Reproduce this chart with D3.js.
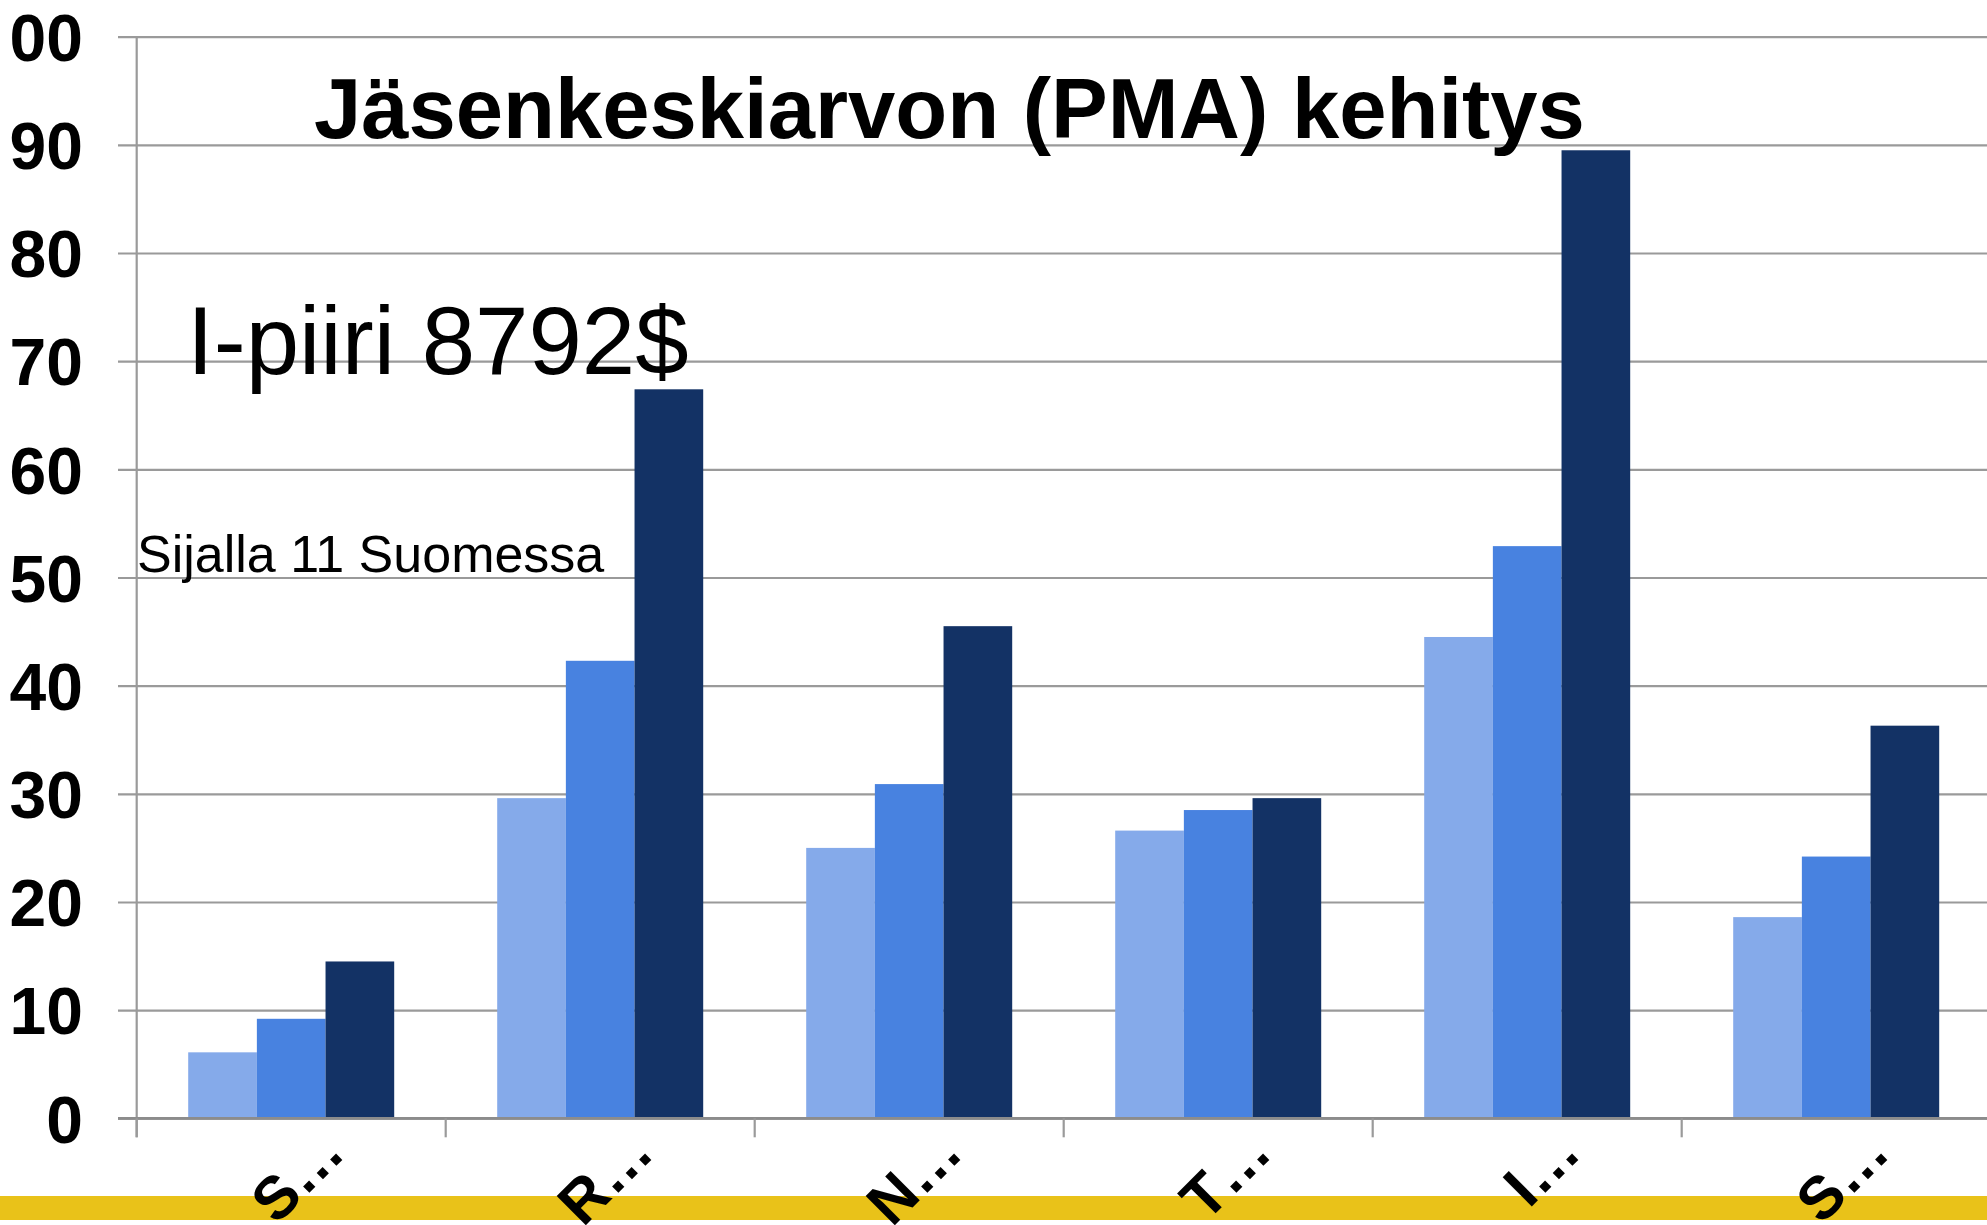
<!DOCTYPE html>
<html>
<head>
<meta charset="utf-8">
<script src="https://cdn.jsdelivr.net/npm/d3@7"></script>
<style>
  html, body { margin: 0; padding: 0; background: #ffffff; }
  svg { display: block; font-family: "Liberation Sans", Arial, sans-serif; }
</style>
</head>
<body>
<div class="chart-container"></div>
<script>
// data
const categories = ['S…', 'R…', 'N…', 'T…', 'I…', 'S…'];
const seriesKeys = ['sarja1', 'sarja2', 'sarja3'];
const sarja1 = [6.1, 29.6, 25.0, 26.6, 44.5, 18.6];
const sarja2 = [9.2, 42.3, 30.9, 28.5, 52.9, 24.2];
const sarja3 = [14.5, 67.4, 45.5, 29.6, 89.5, 36.3];
const yTicks = [0, 10, 20, 30, 40, 50, 60, 70, 80, 90, 100];
const yTickLabels = ['0', '10', '20', '30', '40', '50', '60', '70', '80', '90', '00'];
const titleText = 'Jäsenkeskiarvon (PMA) kehitys';
const noteBig = 'I-piiri 8792$';
const noteSmall = 'Sijalla 11 Suomessa';

const values = [sarja1, sarja2, sarja3];
const colors = ['#85aaea', '#4882e0', '#133265'];

const width = 1987;
const height = 1225;

const svg = d3.select('.chart-container')
.append('svg')
.attr('width', width)
.attr('height', height);

svg.append('rect')
.attr('width', width)
.attr('height', height)
.attr('fill', '#ffffff');

const plotLeft = 136.7;
const step = 309;

let y = d3.scaleLinear()
.domain([0, 100])
.range([1118.3, 36.7]);

let x = d3.scaleBand()
.domain(d3.range(categories.length))
.range([plotLeft, plotLeft + step * categories.length])
.paddingInner(0)
.paddingOuter(0);

let xInner = d3.scaleBand()
.domain(seriesKeys)
.range([0, x.bandwidth()])
.paddingInner(0)
.paddingOuter(0.75);

// gridlines, they stick out a bit left of the axis
svg.append('g')
.attr('class', 'grid')
.attr('transform', 'translate(118,0)')
.call(d3.axisRight(y).tickValues(yTicks).tickSize(width - 118).tickFormat(''))
.call(g => g.select('.domain').remove())
.call(g => g.selectAll('line').attr('stroke', '#9a9a9a').attr('stroke-width', 2.2));

// y labels
svg.append('g')
.attr('class', 'y-labels')
.attr('transform', 'translate(83,0)')
.call(d3.axisLeft(y).tickValues(yTicks).tickSize(0).tickPadding(0).tickFormat((d, i) => yTickLabels[i]))
.call(g => g.select('.domain').remove())
.call(g => g.selectAll('text')
	.attr('font-family', '"Liberation Sans", Arial, sans-serif')
	.attr('font-size', '66px')
	.attr('font-weight', 'bold')
	.attr('fill', '#000000')
	.attr('dy', '0.36em'));

// bars
const groups = svg.append('g')
.selectAll('g')
.data(categories)
.enter()
.append('g')
.attr('transform', (d, i) => 'translate(' + x(i) + ',0)');

groups.selectAll('rect')
.data((d, i) => seriesKeys.map((k, s) => ({ key: k, s: s, value: values[s][i] })))
.enter()
.append('rect')
.attr('x', d => xInner(d.key))
.attr('width', xInner.bandwidth())
.attr('y', d => y(d.value))
.attr('height', d => y(0) - y(d.value))
.attr('fill', d => colors[d.s]);

// y axis line
svg.append('line')
.attr('x1', plotLeft).attr('x2', plotLeft)
.attr('y1', y(100)).attr('y2', y(0) + 19)
.attr('stroke', '#9a9a9a')
.attr('stroke-width', 2.2);

// zero line
svg.append('line')
.attr('x1', 118).attr('x2', width)
.attr('y1', y(0)).attr('y2', y(0))
.attr('stroke', '#8c8c8c')
.attr('stroke-width', 2.6);

// category boundary ticks
svg.append('g')
.selectAll('line')
.data(d3.range(categories.length + 1))
.enter()
.append('line')
.attr('x1', i => x.range()[0] + i * x.step())
.attr('x2', i => x.range()[0] + i * x.step())
.attr('y1', y(0))
.attr('y2', y(0) + 19)
.attr('stroke', '#9a9a9a')
.attr('stroke-width', 2.2);

// yellow strip at the bottom
svg.append('rect')
.attr('x', 0)
.attr('y', 1196)
.attr('width', width)
.attr('height', 24)
.attr('fill', '#e9c219');

// category labels, rotated
svg.append('g')
.selectAll('text')
.data(categories)
.enter()
.append('text')
.attr('transform', (d, i) => 'translate(' + (x(i) + x.bandwidth() / 2 + 56) + ',1155) rotate(-45)')
.attr('text-anchor', 'end')
.attr('font-size', '60px')
.attr('font-weight', 'bold')
.attr('fill', '#000000')
.text(d => d);

// title and notes
svg.append('text')
.attr('x', 314)
.attr('y', 138)
.attr('font-size', '85px')
.attr('font-weight', 'bold')
.attr('fill', '#000000')
.text(titleText);

svg.append('text')
.attr('x', 187)
.attr('y', 374)
.attr('font-size', '96px')
.attr('fill', '#000000')
.text(noteBig);

svg.append('text')
.attr('x', 137)
.attr('y', 572)
.attr('font-size', '52px')
.attr('fill', '#000000')
.text(noteSmall);
</script>
</body>
</html>
